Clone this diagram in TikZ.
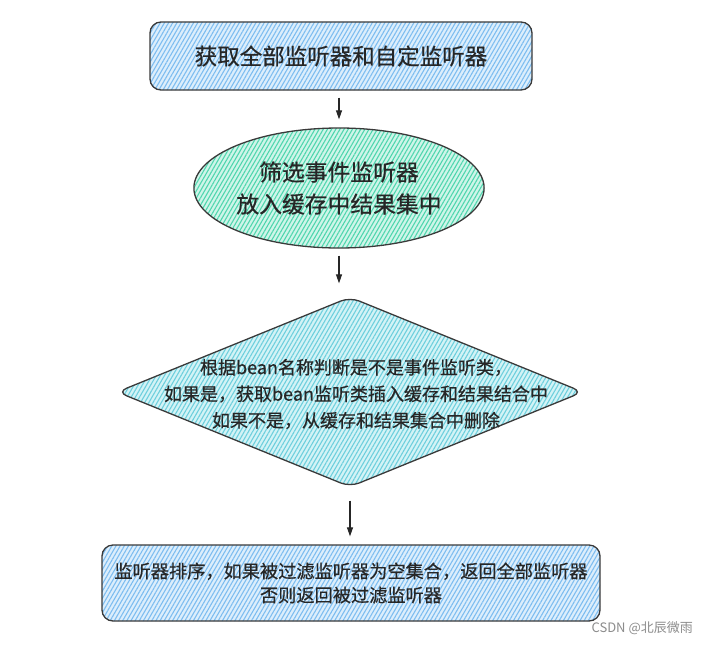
\documentclass[tikz,border=0pt]{standalone}
\usepackage{fontspec}
\setmainfont{Noto Sans CJK SC}[FakeBold=0.5]
\newfontfamily\plainfont{Noto Sans CJK SC}
\usetikzlibrary{shapes.geometric,patterns.meta,arrows.meta}
\definecolor{edge}{HTML}{3A3A3A}
\definecolor{bluefill}{HTML}{DCEEFC}
\definecolor{bluehatch}{HTML}{7DBDF0}
\definecolor{greenfill}{HTML}{CFF5E9}
\definecolor{greenhatch}{HTML}{4FD6AE}
\definecolor{cyanfill}{HTML}{D3F3F6}
\definecolor{cyanhatch}{HTML}{6DCFDD}
\tikzset{
  shapebase/.style={draw=edge, line width=1.3pt, inner sep=0pt, align=center, text=black!85},
  bluebox/.style={shapebase, rectangle, rounded corners=11pt, preaction={fill=bluefill},
     pattern={Lines[angle=60,distance=3.6pt,line width=1.1pt]}, pattern color=bluehatch},
  greenoval/.style={shapebase, ellipse, preaction={fill=greenfill},
     pattern={Lines[angle=60,distance=3.6pt,line width=1.1pt]}, pattern color=greenhatch},
  cyandiamond/.style={shapebase, diamond, rounded corners=10pt, preaction={fill=cyanfill},
     pattern={Lines[angle=60,distance=3.6pt,line width=1.1pt]}, pattern color=cyanhatch},
  flow/.style={draw=black!85, line width=1.1pt, -{Triangle[length=9pt,width=6pt]}},
  watermark/.style={text=black!45, font=\plainfont\fontsize{13}{15}\selectfont, inner sep=0pt}
}
\begin{document}
\begin{tikzpicture}[x=1pt,y=-1pt]
\useasboundingbox (0,0) rectangle (709,646);
\fill[white] (0,0) rectangle (709,646);
\node[bluebox, minimum width=382pt, minimum height=68pt, font=\fontsize{22.5}{26}\selectfont] (a) at (341,56) {获取全部监听器和自定监听器};
\node[greenoval, minimum width=288pt, minimum height=120pt, font=\fontsize{22.8}{32}\selectfont] (b) at (339,188) {筛选事件监听器\\放入缓存中结果集中};
\node[cyandiamond, minimum width=466pt, minimum height=190pt] (c) at (350,392) {};
\node[font=\fontsize{18}{26.5}\selectfont, align=center, inner sep=0pt, text=black!85] (ct) at (356,394) {根据bean名称判断是不是事件监听类，\\如果是，获取bean监听类插入缓存和结果结合中\\如果不是，从缓存和结果集合中删除};
\node[bluebox, minimum width=498pt, minimum height=76pt, font=\fontsize{18.2}{24}\selectfont] (d) at (351,583) {监听器排序，如果被过滤监听器为空集合，返回全部监听器\\否则返回被过滤监听器};
\draw[flow, shorten <=7pt, shorten >=8pt] (b.north |- a.south) -- (b.north);
\draw[flow, shorten <=7pt, shorten >=13pt] (b.south) -- (b.south |- c.north);
\draw[flow, shorten <=13pt, shorten >=8pt] (c.south) -- (c.south |- d.north);
\node[watermark, anchor=east] (w) at (693,628) {CSDN @北辰微雨};
\end{tikzpicture}
\end{document}
